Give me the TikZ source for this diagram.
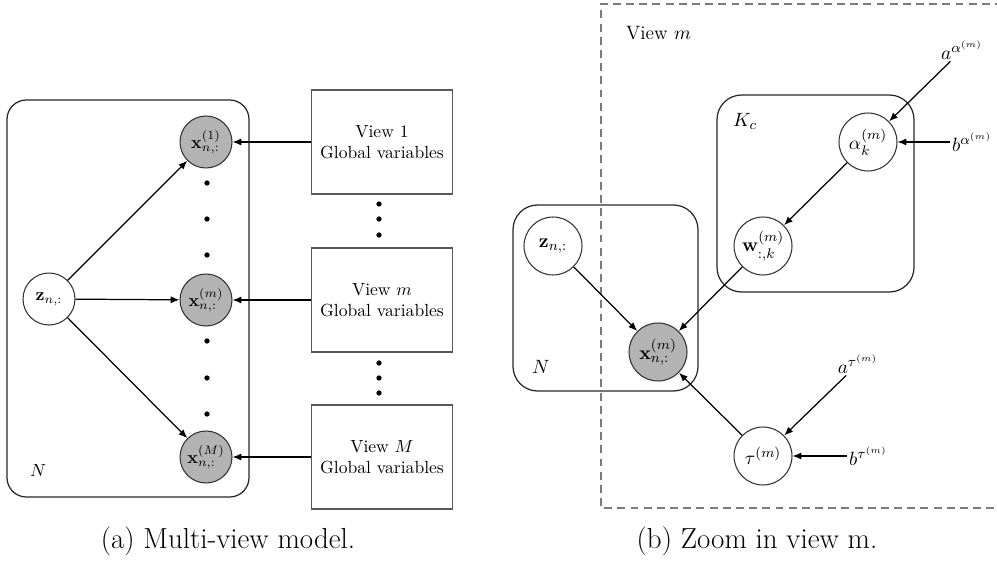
\documentclass[tikz,border=0pt]{standalone}
\usepackage{amsmath}
\usepackage{tikz}
\usetikzlibrary{arrows.meta,positioning,fit}
\definecolor{obsgray}{HTML}{B3B3B3}
\definecolor{framegray}{HTML}{7A7A7A}

\begin{document}
\begin{tikzpicture}[
  x=0.02cm, y=-0.02cm,
  latent/.style={draw=black!80, semithick, circle, minimum size=1.04cm, inner sep=0pt, fill=white},
  observed/.style={latent, fill=obsgray},
  biglatent/.style={latent, minimum size=1.16cm},
  bigobserved/.style={biglatent, fill=obsgray},
  plate/.style={draw=black!85, line width=0.7pt, rounded corners=11pt, inner sep=0pt},
  viewbox/.style={draw=black!65, line width=0.8pt, minimum width=2.82cm, minimum height=2.08cm, align=center},
  viewframe/.style={draw=framegray, line width=0.8pt, dash pattern=on 4.5pt off 3pt},
  edge/.style={-{Latex[length=5pt,width=4pt]}, draw=black, line width=0.7pt},
  hyper/.style={inner sep=1pt},
  caption/.style={font=\fontsize{16.5}{20}\selectfont}
]
\useasboundingbox (0,0) rectangle (997,564);

% (a) multi-view model
\node[plate, fit={(7,100) (249,497)}] (plateN) {};
\node[anchor=base west] (labN) at (24,476) {$N$};
\node[latent] (z) at (49,299) {$\mathbf{z}_{n,:}$};
\node[observed] (x1) at (206,142) {$\mathbf{x}_{n,:}^{(1)}$};
\node[observed] (xm) at (206,300) {$\mathbf{x}_{n,:}^{(m)}$};
\node[observed] (xM) at (206,457) {$\mathbf{x}_{n,:}^{(M)}$};
\node[viewbox] (view1) at (382,142) {View 1\\Global variables};
\node[viewbox] (viewm) at (382,300) {View $m$\\Global variables};
\node[viewbox] (viewM) at (382,457) {View $M$\\Global variables};

\foreach \y in {183,219,255,341,378,414}
  \fill (207,\y) circle (1.5pt);
\foreach \y in {204,219,235,363,378,393}
  \fill (379,\y) circle (1.5pt);

\draw[edge] (z) -- (x1);
\draw[edge] (z) -- (xm);
\draw[edge] (z) -- (xM);
\draw[edge] (view1) -- (x1);
\draw[edge] (viewm) -- (xm);
\draw[edge] (viewM) -- (xM);

\node[caption] (capA) at (228,541) {(a) Multi-view model.};

% (b) zoom in view m
\begin{scope}[font=\fontsize{11}{13}\selectfont]
\draw[viewframe] (1003,4) -- (601,4) -- (601,508) -- (1003,508);
\node[anchor=west] (viewlab) at (620,33) {View $m$};

\node[plate, rounded corners=14pt, fit={(513,205) (698,391)}] (plateNb) {};
\node[anchor=base west] (labNb) at (526,373) {$N$};
\node[plate, rounded corners=14pt, fit={(717,95) (914,292)}] (plateK) {};
\node[anchor=base west] (labK) at (727,127) {$K_c$};

\node[biglatent] (zb) at (553,246) {$\mathbf{z}_{n,:}$};
\node[bigobserved] (xb) at (658,352) {$\mathbf{x}_{n,:}^{(m)}$};
\node[biglatent] (w) at (763,246) {$\mathbf{w}_{:,k}^{(m)}$};
\node[biglatent] (alpha) at (868,142) {$\alpha_k^{(m)}$};
\node[biglatent] (tau) at (763,456) {$\tau^{(m)}$};

\node[hyper] (aalpha) at (962,50) {$a^{\alpha^{(m)}}$};
\node[hyper, anchor=west] (balpha) at (950,142) {$b^{\alpha^{(m)}}$};
\node[hyper] (atau) at (858,364) {$a^{\tau^{(m)}}$};
\node[hyper, anchor=west] (btau) at (847,456) {$b^{\tau^{(m)}}$};

\draw[edge] (zb) -- (xb);
\draw[edge] (w) -- (xb);
\draw[edge] (tau) -- (xb);
\draw[edge] (alpha) -- (w);
\draw[edge] (aalpha) -- (alpha);
\draw[edge] (balpha.west) -- (alpha);
\draw[edge] (atau) -- (tau);
\draw[edge] (btau.west) -- (tau);
\end{scope}

\node[caption] (capB) at (757,541) {(b) Zoom in view m.};
\end{tikzpicture}
\end{document}
